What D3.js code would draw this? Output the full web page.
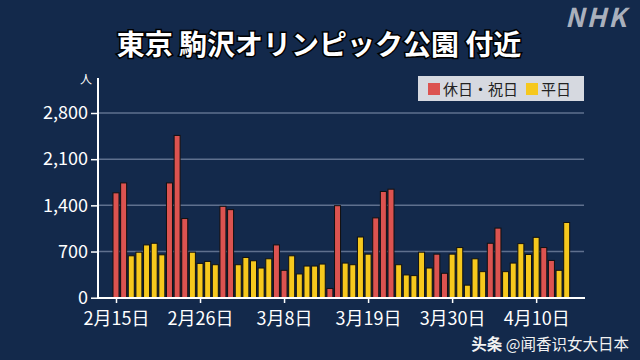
<!DOCTYPE html>
<html><head><meta charset="utf-8">
<script src="https://cdn.jsdelivr.net/npm/d3@7"></script>
<style>
html,body{margin:0;padding:0;background:#13294b;}
svg{display:block;}
text{font-family:"Noto Sans CJK JP","Noto Sans",sans-serif;}
</style></head>
<body>
<script>
// ---- data ----
const startDate = "2020-02-15";
const values = [1590,1740,635,690,800,825,650,1740,2460,1200,690,520,550,500,1385,1335,500,610,560,450,590,800,
  415,635,360,480,480,510,140,1395,525,500,920,660,1210,1610,1645,500,345,335,690,450,660,370,
  660,760,190,590,395,825,1055,395,525,820,655,915,760,565,415,1140];
const holidays = [1,1,0,0,0,0,0,1,1,1,0,0,0,0,1,1,0,0,0,0,0,1,1,0,0,0,0,0,1,1,0,0,0,0,1,1,1,0,0,0,0,0,1,1,
  0,0,0,0,0,1,1,0,0,0,0,0,1,1,0,0];
const yTicks = [0,700,1400,2100,2800];
const xTickDates = ["2020-02-15","2020-02-26","2020-03-08","2020-03-19","2020-03-30","2020-04-10"];
const legendLabels = ["休日・祝日","平日"];
const title = "東京 駒沢オリンピック公園 付近";

const W=640,H=360;
const svg=d3.select("body").append("svg").attr("width",W).attr("height",H);
svg.append("rect").attr("width",W).attr("height",H).attr("fill","#13294b");

const parse=d3.utcParse("%Y-%m-%d");
const d0=parse(startDate);
const dates=values.map((v,i)=>d3.utcDay.offset(d0,i));
const data=values.map((v,i)=>({date:dates[i],value:v,hol:holidays[i]}));

const x=d3.scaleUtc().domain([d0,dates[dates.length-1]]).range([116,566.7]);
const y=d3.scaleLinear().domain([0,2800]).range([297.7,113]);

const red="#dc5350", yellow="#f6c81d";

// gridlines
svg.append("g").selectAll("line").data(yTicks.filter(t=>t>0)).join("line")
  .attr("x1",98).attr("x2",584).attr("y1",d=>y(d)).attr("y2",d=>y(d))
  .attr("stroke","#5f708e").attr("stroke-width",1.5);

// bars
svg.append("g").selectAll("rect").data(data).join("rect")
  .attr("x",d=>x(d.date)-3).attr("width",6)
  .attr("y",d=>y(d.value)).attr("height",d=>y(0)-y(d.value))
  .attr("fill",d=>d.hol?red:yellow).attr("stroke","#111").attr("stroke-width",1);

// y axis
const yAxis=d3.axisLeft(y).tickValues(yTicks).tickSize(7).tickPadding(3).tickFormat(d3.format(","));
const gy=svg.append("g").attr("transform","translate(98,0)").call(yAxis);
gy.select(".domain").remove();
gy.selectAll(".tick line").attr("stroke","#fff").attr("stroke-width",1.5);
gy.selectAll("text").attr("fill","#fff").attr("font-size",18).attr("font-family","'Noto Sans','Noto Sans CJK JP',sans-serif");
svg.append("line").attr("x1",98).attr("x2",98).attr("y1",78).attr("y2",298.5).attr("stroke","#fff").attr("stroke-width",2);
svg.append("text").attr("x",86).attr("y",84).attr("text-anchor","middle").attr("fill","#fff").attr("font-size",12).text("人");

// x axis
const fmt=d=>(d.getUTCMonth()+1)+"月"+d.getUTCDate()+"日";
const xAxis=d3.axisBottom(x).tickValues(xTickDates.map(parse)).tickSize(5).tickPadding(9).tickFormat(fmt);
const gx=svg.append("g").attr("transform","translate(0,298)").call(xAxis);
gx.select(".domain").remove();
gx.selectAll(".tick line").attr("stroke","#fff").attr("stroke-width",1.5);
gx.selectAll("text").attr("fill","#fff").attr("font-size",18);
svg.append("line").attr("x1",97).attr("x2",585).attr("y1",298).attr("y2",298).attr("stroke","#fff").attr("stroke-width",2);

// legend
const lg=svg.append("g");
lg.append("rect").attr("x",418).attr("y",76).attr("width",166).attr("height",25).attr("fill","#d6d9e0");
lg.append("rect").attr("x",428).attr("y",83).attr("width",12).attr("height",12).attr("fill",red);
lg.append("text").attr("x",443).attr("y",95).attr("font-size",15).attr("fill","#222").text(legendLabels[0]);
lg.append("rect").attr("x",526).attr("y",83).attr("width",12).attr("height",12).attr("fill",yellow);
lg.append("text").attr("x",541).attr("y",95).attr("font-size",15).attr("fill","#222").text(legendLabels[1]);

// title
svg.append("text").attr("x",319).attr("y",55).attr("text-anchor","middle").attr("font-size",28).attr("font-weight","bold")
  .attr("fill","#fff").attr("stroke","#000").attr("stroke-width",3).attr("paint-order","stroke").text(title);

// NHK logo
svg.append("text").attr("x",628).attr("y",27).attr("text-anchor","end").attr("font-size",26).attr("font-weight","bold")
  .attr("font-style","italic").attr("font-family","'Liberation Sans',sans-serif").attr("fill","#aab0bd").attr("letter-spacing",2).text("NHK");

// watermark
const wm=svg.append("text").attr("x",629).attr("y",350).attr("text-anchor","end").attr("font-size",15.5).attr("fill","#f2f2f2");
wm.append("tspan").attr("font-weight","bold").text("头条 ");
wm.append("tspan").attr("font-family","'Noto Sans CJK SC',sans-serif").text("@闻香识女大日本");
</script>
</body></html>
